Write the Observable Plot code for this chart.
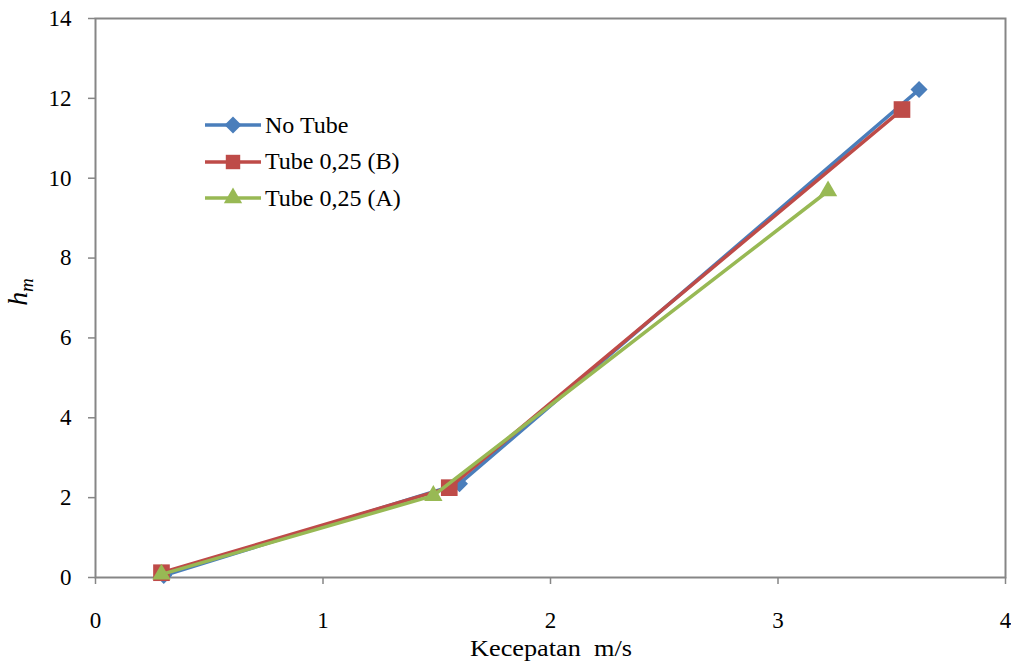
<!DOCTYPE html>
<html>
<head>
<meta charset="utf-8">
<script src="https://cdn.jsdelivr.net/npm/d3@7"></script>
<script src="https://cdn.jsdelivr.net/npm/@observablehq/plot@0.6"></script>
<style>
  body { margin: 0; background: #fff; }
  #wrap { position: relative; width: 1011px; height: 668px; font-family: "Liberation Serif", "Times New Roman", serif; }
  #legend { position: absolute; left: 204px; top: 107px; font-size: 24px; color: #000; }
  #legend .row { display: flex; align-items: center; height: 36.5px; }
  #legend svg { margin-right: 3px; }
</style>
</head>
<body>
<div id="wrap">
  <div id="chart"></div>
  <div id="legend"></div>
</div>
<script>
const seriesNames = ["No Tube", "Tube 0,25 (B)", "Tube 0,25 (A)"];
const seriesColors = ["#4a7ebb", "#be4b48", "#98b954"];
const seriesSymbols = ["square", "square", "triangle"];
const seriesRotate = [45, 0, 0];
const seriesR = [6.8, 9.4, 6.8];

const noTubeX = [0.30, 1.60, 3.62];
const noTubeY = [0.05, 2.35, 12.22];
const tubeBX = [0.29, 1.555, 3.545];
const tubeBY = [0.12, 2.25, 11.72];
const tubeAX = [0.29, 1.485, 3.22];
const tubeAY = [0.08, 2.05, 9.68];

const xTicks = [0, 1, 2, 3, 4];
const yTicks = [0, 2, 4, 6, 8, 10, 12, 14];

const xs = [noTubeX, tubeBX, tubeAX];
const ys = [noTubeY, tubeBY, tubeAY];
const data = seriesNames.map((name, i) => xs[i].map((x, j) => ({series: name, x, y: ys[i][j]})));

const marks = [
  Plot.frame({stroke: "#868686", strokeWidth: 2}),
  Plot.axisX(xTicks, {tickSize: 7, tickPadding: 27, stroke: "#868686", strokeWidth: 1.5, tickFormat: d3.format("d"), label: null}),
  Plot.axisY(yTicks, {tickSize: 7, tickPadding: 17, stroke: "#868686", strokeWidth: 1.5, tickFormat: d3.format("d"), label: null})
];
data.forEach((d, i) => {
  marks.push(Plot.line(d, {x: "x", y: "y", stroke: seriesColors[i], strokeWidth: 3.5}));
  marks.push(Plot.dot(d, {x: "x", y: "y", symbol: seriesSymbols[i], r: seriesR[i], fill: seriesColors[i], rotate: seriesRotate[i]}));
});

const chart = Plot.plot({
  width: 1011,
  height: 668,
  marginLeft: 95,
  marginRight: 6,
  marginTop: 18,
  marginBottom: 91,
  style: {fontFamily: "'Liberation Serif', 'Times New Roman', serif", fontSize: "23px", color: "#000", background: "#fff", overflow: "visible"},
  x: {domain: [0, 4]},
  y: {domain: [0, 14]},
  marks
});
document.getElementById("chart").appendChild(chart);

const svg = d3.select(chart);
// tick labels drawn by Plot's axes
svg.selectAll("g").filter(function() { return this.getAttribute("font-size") || this.getAttribute("font-family"); })
  .attr("font-size", 23).attr("font-family", "'Liberation Serif', serif");
svg.selectAll("text")
  .style("font-size", "23px")
  .style("font-family", "'Liberation Serif', serif")
  .attr("fill", "#000");

// axis titles
svg.append("text")
  .attr("x", 551).attr("y", 656)
  .attr("text-anchor", "middle")
  .style("font-size", "24px")
  .attr("textLength", 162)
  .attr("lengthAdjust", "spacingAndGlyphs")
  .style("font-family", "'Liberation Serif', serif")
  .attr("fill", "#000")
  .text("Kecepatan  m/s");
const yl = svg.append("text")
  .attr("transform", "translate(27,292) rotate(-90)")
  .attr("text-anchor", "middle")
  .style("font-size", "28px")
  .style("font-family", "'Liberation Serif', serif")
  .attr("font-style", "italic")
  .attr("fill", "#000");
yl.append("tspan").text("h");
yl.append("tspan").style("font-size", "19px").attr("dy", 6).text("m");

// legend
const legend = d3.select("#legend");
seriesNames.forEach((name, i) => {
  const row = legend.append("div").attr("class", "row");
  const s = row.append("svg").attr("width", 58).attr("height", 24);
  s.append("line").attr("x1", 1).attr("x2", 57).attr("y1", 12).attr("y2", 12)
    .attr("stroke", seriesColors[i]).attr("stroke-width", 3.5);
  const sym = d3.symbol().type(seriesSymbols[i] === "triangle" ? d3.symbolTriangle : d3.symbolSquare)
    .size(Math.PI * seriesR[i] * seriesR[i] * (i === 1 ? 0.75 : 1));
  s.append("path").attr("d", sym())
    .attr("transform", `translate(29,12) rotate(${seriesRotate[i]})`)
    .attr("fill", seriesColors[i]);
  row.append("span").text(name);
});
</script>
</body>
</html>
